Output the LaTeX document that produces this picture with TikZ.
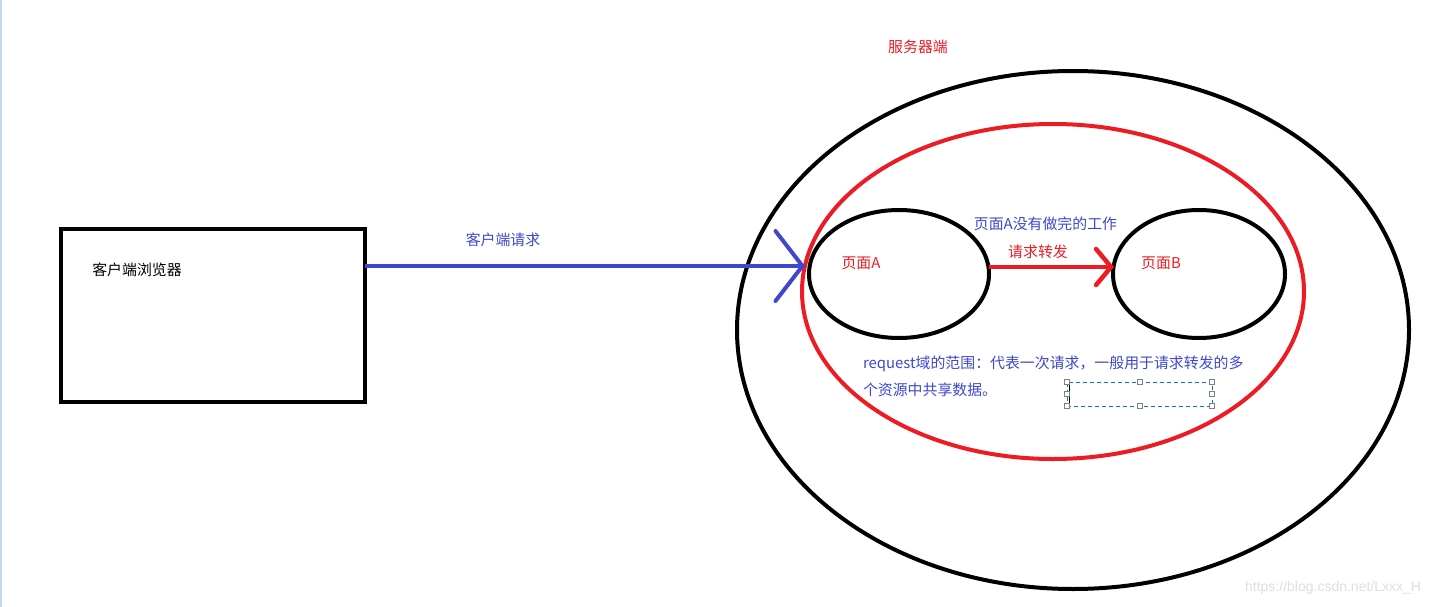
\documentclass[tikz,border=0pt]{standalone}
\usepackage{fontspec}
\setmainfont{Liberation Sans}
\newfontfamily\cjk{Noto Sans CJK SC}
\usetikzlibrary{shapes.geometric,arrows.meta}
\definecolor{pblue}{RGB}{63,72,204}
\definecolor{pred}{RGB}{237,28,36}
\definecolor{selblue}{RGB}{0,120,215}
\definecolor{edgeblue}{RGB}{200,215,235}
\begin{document}
\begin{tikzpicture}[x=1pt,y=-1pt,
  every node/.style={inner sep=0pt,outer sep=0pt},
  txt/.style={font=\cjk\fontsize{14.9}{18}\selectfont},
  oval/.style={ellipse,draw,line width=4pt},
  handle/.style={draw=gray,fill=white,line width=0.8pt,minimum size=5pt,inner sep=0pt},
  bluearrow/.style={draw=pblue,line width=4pt,-{Straight Barb[length=27pt,width=70pt,line cap=round]}},
  redarrow/.style={draw=pred,line width=4.5pt,-{Straight Barb[length=15pt,width=36pt,line cap=round]}}]
\useasboundingbox (0,0) rectangle (1429,607);
\fill[white] (0,0) rectangle (1429,607);
\fill[edgeblue] (0,0) rectangle (2,607);
% client box
\node[draw,line width=4pt,minimum width=304pt,minimum height=173pt] (client) at (213,315.5) {};
\node[txt] (clienttxt) at (137,270) {客户端浏览器};
% server ellipses
\node[oval,minimum width=672pt,minimum height=518pt] (server) at (1073,330) {};
\node[oval,draw=pred,minimum width=502pt,minimum height=335pt] (req) at (1053,291.5) {};
\node[oval,minimum width=180pt,minimum height=128pt] (pA) at (899,274) {};
\node[oval,minimum width=172pt,minimum height=128pt] (pB) at (1199,274) {};
% labels
\node[txt,text=pred] (servertxt) at (918,47) {服务器端};
\node[txt,text=pblue] (reqtxt) at (503,240) {客户端请求};
\node[txt,text=pred] (pAtxt) at (861,263) {页面A};
\node[txt,text=pred] (pBtxt) at (1161,263) {页面B};
\node[txt,text=pblue] (unfinished) at (1045.5,224) {页面A没有做完的工作};
\node[txt,text=pred] (fwd) at (1038,252) {请求转发};
\node[txt,text=pblue,anchor=west] (scope1) at (863,364) {request域的范围：代表一次请求，一般用于请求转发的多};
\node[txt,text=pblue,anchor=west] (scope2) at (863,390) {个资源中共享数据。};
% connectors
\coordinate (btip) at (805,266);
\draw[bluearrow] (client.east |- btip) -- (btip);
\draw[redarrow] ([yshift=7pt]pA.east) -- ([yshift=7pt,xshift=1pt]pB.west);
% selection box
\node[draw=selblue,dashed,dash pattern=on 4pt off 3pt,line width=0.8pt,minimum width=145pt,minimum height=24pt] (sel) at (1139.5,394) {};
\coordinate (cur1) at (1069,384);
\coordinate (cur2) at (1069,404);
\draw[line width=1pt] (cur1) -- (cur2);
\foreach \a in {north west,north,north east,west,east,south west,south,south east}
  \node[handle] at (sel.\a) {};
% watermark
\node[text=gray!25,font=\fontsize{14}{16}\selectfont,anchor=east] (wm) at (1421,588) {https://blog.csdn.net/Lxxx\_H};
\end{tikzpicture}
\end{document}
